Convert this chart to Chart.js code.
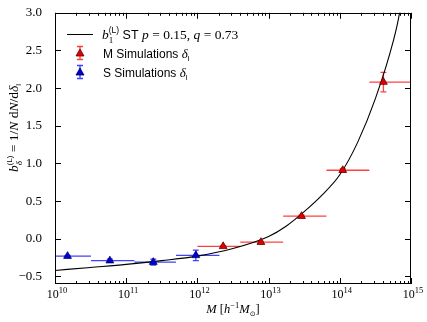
<!DOCTYPE html>
<html lang="en">
<head>
<meta charset="UTF-8">
<title>Halo bias vs mass</title>
<style>
  body { margin: 0; background: #fff; }
  #wrap { width: 427px; height: 322px; }
</style>
</head>
<body>
<div id="wrap"><canvas id="chart" width="427" height="322"></canvas></div>
<script src="https://cdn.jsdelivr.net/npm/chart.js"></script>
<script>
    // ST curve
    const curveMass = [1e10, 3.16e10, 1e11, 3.16e11, 1e12, 3.16e12, 1e13, 1.78e13, 3.16e13, 5.62e13, 1e14, 1.78e14, 3.16e14, 5.62e14, 6.9e14, 7.6e14];
    const curveBias = [-0.42, -0.38, -0.34, -0.29, -0.23, -0.13, 0.03, 0.17, 0.36, 0.58, 0.85, 1.28, 1.86, 2.62, 3.0, 3.3];

    // M simulations
    const mMass = [2.3e12, 7.8e12, 2.9e13, 1.1e14, 4.1e14];
    const mBias = [-0.10, -0.045, 0.30, 0.91, 2.08];
    const mLo = [1.0e12, 4.0e12, 1.6e13, 6.5e13, 2.6e14];
    const mHi = [4.0e12, 1.6e13, 6.5e13, 2.6e14, 1.05e15];
    const mErr = [0.01, 0.01, 0.015, 0.02, 0.13];

    // S simulations
    const sMass = [1.5e10, 5.9e10, 2.4e11, 9.5e11];
    const sBias = [-0.23, -0.29, -0.31, -0.22];
    const sLo = [8.1e9, 3.2e10, 1.3e11, 5.0e11];
    const sHi = [3.2e10, 1.3e11, 5.0e11, 2.04e12];
    const sErr = [0.01, 0.02, 0.04, 0.07];

    const xTickExps = [10, 11, 12, 13, 14, 15];
    const yTicks = [-0.5, 0, 0.5, 1.0, 1.5, 2.0, 2.5, 3.0];

    const SERIF = '"Liberation Serif", "DejaVu Serif", serif';
    const SANS = '"Liberation Sans", "DejaVu Sans", sans-serif';
    const RED = 'rgba(255,0,0,0.75)';
    const BLUE = 'rgba(0,0,255,0.75)';

    function pts(xs, ys) {
        return xs.map((x, i) => ({ x: x, y: ys[i] }));
    }

    // draw a row of text pieces: {t, f, dy, keep}; keep = don't advance (for stacked sub/sup)
    function drawRuns(ctx, runs, x, y) {
        runs.forEach(r => {
            ctx.font = r.f;
            ctx.fillText(r.t, x, y + (r.dy || 0));
            if (!r.keep) x += ctx.measureText(r.t).width;
        });
        return x;
    }
    function runsWidth(ctx, runs) {
        let w = 0;
        runs.forEach(r => {
            ctx.font = r.f;
            if (!r.keep) w += ctx.measureText(r.t).width;
        });
        return w;
    }

    function markerTri(ctx, x, y, fill, edge) {
        ctx.beginPath();
        ctx.moveTo(x, y - 4);
        ctx.lineTo(x + 4, y + 3);
        ctx.lineTo(x - 4, y + 3);
        ctx.closePath();
        ctx.fillStyle = fill;
        ctx.fill();
        ctx.strokeStyle = edge;
        ctx.lineWidth = 0.8;
        ctx.stroke();
    }

    const errorBars = {
        id: 'errorBars',
        beforeDatasetsDraw(chart) {
            const { ctx, chartArea: a, scales: { x, y } } = chart;
            ctx.save();
            ctx.beginPath();
            ctx.rect(a.left, a.top, a.width, a.height);
            ctx.clip();
            ctx.lineWidth = 1.3;
            const sets = [
                [mMass, mBias, mLo, mHi, mErr, RED],
                [sMass, sBias, sLo, sHi, sErr, BLUE]
            ];
            sets.forEach(([xs, ys, lo, hi, err, col]) => {
                ctx.strokeStyle = col;
                xs.forEach((m, i) => {
                    const px = x.getPixelForValue(m);
                    const py = y.getPixelForValue(ys[i]);
                    const y0 = y.getPixelForValue(ys[i] - err[i]);
                    const y1 = y.getPixelForValue(ys[i] + err[i]);
                    ctx.beginPath();
                    ctx.moveTo(x.getPixelForValue(lo[i]), py);
                    ctx.lineTo(x.getPixelForValue(hi[i]), py);
                    ctx.moveTo(px, y0); ctx.lineTo(px, y1);
                    ctx.moveTo(px - 3, y0); ctx.lineTo(px + 3, y0);
                    ctx.moveTo(px - 3, y1); ctx.lineTo(px + 3, y1);
                    ctx.stroke();
                });
            });
            ctx.restore();
        }
    };

    // matplotlib-like frame, inward ticks, x labels, titles and legend
    const decor = {
        id: 'decor',
        afterDraw(chart) {
            const { ctx, chartArea: a, scales: { x, y } } = chart;
            ctx.save();
            ctx.strokeStyle = '#000';
            ctx.lineWidth = 1;
            ctx.strokeRect(Math.round(a.left) + 0.5, Math.round(a.top) + 0.5,
                Math.round(a.width) - 1, Math.round(a.height) - 1);

            ctx.beginPath();
            for (let e = xTickExps[0]; e < xTickExps[xTickExps.length - 1] + 1; e++) {
                for (let k = 1; k <= 9; k++) {
                    const v = k * Math.pow(10, e);
                    if (v > Math.pow(10, xTickExps[xTickExps.length - 1])) break;
                    const px = Math.round(x.getPixelForValue(v)) + 0.5;
                    const len = k === 1 ? 6 : 3;
                    ctx.moveTo(px, a.bottom); ctx.lineTo(px, a.bottom - len);
                    ctx.moveTo(px, a.top); ctx.lineTo(px, a.top + len);
                }
            }
            yTicks.forEach(v => {
                const py = Math.round(y.getPixelForValue(v)) + 0.5;
                ctx.moveTo(a.left, py); ctx.lineTo(a.left + 6, py);
                ctx.moveTo(a.right, py); ctx.lineTo(a.right - 6, py);
            });
            ctx.stroke();

            // x tick labels 10^n
            ctx.fillStyle = '#000';
            ctx.textBaseline = 'alphabetic';
            ctx.textAlign = 'left';
            xTickExps.forEach(e => {
                const runs = [
                    { t: '10', f: '12px ' + SERIF },
                    { t: String(e), f: '8.5px ' + SERIF, dy: -5 }
                ];
                const w = runsWidth(ctx, runs);
                drawRuns(ctx, runs, x.getPixelForValue(Math.pow(10, e)) - w / 2 + 2, a.bottom + 14);
            });

            // x title
            const xt = [
                { t: 'M', f: 'italic 12.5px ' + SERIF },
                { t: ' [', f: '12.5px ' + SERIF },
                { t: 'h', f: 'italic 12.5px ' + SERIF },
                { t: '\u22121', f: '8.5px ' + SERIF, dy: -5 },
                { t: 'M', f: 'italic 12.5px ' + SERIF },
                { t: '\u2299', f: '7px "DejaVu Sans", sans-serif', dy: 3 },
                { t: ']', f: '12.5px ' + SERIF }
            ];
            drawRuns(ctx, xt, (a.left + a.right) / 2 - runsWidth(ctx, xt) / 2, 313);

            // y title, rotated
            const yt = [
                { t: 'b', f: 'italic 13.5px ' + SERIF },
                { t: '\u03b4', f: 'italic 9px ' + SERIF, dy: 3.5, keep: true },
                { t: '(L)', f: '8px ' + SANS, dy: -6 },
                { t: ' = 1/', f: '13.5px ' + SERIF },
                { t: 'N', f: 'italic 13.5px ' + SERIF },
                { t: ' d', f: '13.5px ' + SERIF },
                { t: 'N', f: 'italic 13.5px ' + SERIF },
                { t: '/d', f: '13.5px ' + SERIF },
                { t: '\u03b4', f: 'italic 13.5px ' + SERIF },
                { t: 'l', f: '8px ' + SANS, dy: 3 }
            ];
            ctx.save();
            ctx.translate(18, 128);
            ctx.rotate(-Math.PI / 2);
            drawRuns(ctx, yt, -runsWidth(ctx, yt) / 2, 0);
            ctx.restore();

            // legend
            ctx.strokeStyle = '#000';
            ctx.lineWidth = 1;
            ctx.beginPath();
            ctx.moveTo(67, 34.5); ctx.lineTo(93, 34.5);
            ctx.stroke();
            drawRuns(ctx, [
                { t: 'b', f: 'italic 13.5px ' + SERIF },
                { t: '1', f: '9px ' + SERIF, dy: 3.5, keep: true },
                { t: '(L)', f: '8.5px ' + SANS, dy: -6.5 },
                { t: ' ST ', f: '12.5px ' + SANS },
                { t: 'p', f: 'italic 13.5px ' + SERIF },
                { t: ' = 0.15, ', f: '13.5px ' + SERIF },
                { t: 'q', f: 'italic 13.5px ' + SERIF },
                { t: ' = 0.73', f: '13.5px ' + SERIF }
            ], 102, 39);

            [[53, RED, '#e00000', '#600000', 'M'], [72, BLUE, '#0000dd', '#000060', 'S']].forEach(([cy, col, fill, edge, name]) => {
                ctx.strokeStyle = col;
                ctx.lineWidth = 1.3;
                ctx.beginPath();
                ctx.moveTo(80, cy - 6.5); ctx.lineTo(80, cy + 6.5);
                ctx.moveTo(77, cy - 6.5); ctx.lineTo(83, cy - 6.5);
                ctx.moveTo(77, cy + 6.5); ctx.lineTo(83, cy + 6.5);
                ctx.stroke();
                markerTri(ctx, 80, cy, fill, edge);
                ctx.fillStyle = '#000';
                drawRuns(ctx, [
                    { t: name + ' Simulations ', f: '12px ' + SANS },
                    { t: '\u03b4', f: 'italic 13px ' + SERIF },
                    { t: 'l', f: '7.5px ' + SANS, dy: 3 }
                ], 103, cy + 4.5);
            });
            ctx.restore();
        }
    };

    new Chart(document.getElementById('chart').getContext('2d'), {
        type: 'scatter',
        data: {
            datasets: [
                {
                    label: 'ST',
                    data: pts(curveMass, curveBias),
                    showLine: true,
                    borderColor: '#000',
                    borderWidth: 1.1,
                    pointRadius: 0,
                    cubicInterpolationMode: 'monotone',
                    order: 3
                },
                {
                    label: 'M Simulations',
                    data: pts(mMass, mBias),
                    pointStyle: 'triangle',
                    pointRadius: 4.5,
                    backgroundColor: '#e00000',
                    borderColor: '#600000',
                    borderWidth: 0.8,
                    order: 2
                },
                {
                    label: 'S Simulations',
                    data: pts(sMass, sBias),
                    pointStyle: 'triangle',
                    pointRadius: 4.5,
                    backgroundColor: '#0000dd',
                    borderColor: '#000060',
                    borderWidth: 0.8,
                    order: 1
                }
            ]
        },
        options: {
            responsive: false,
            animation: false,
            layout: { padding: { top: 10, right: 16, left: 0, bottom: 0 } },
            plugins: { legend: { display: false }, tooltip: { enabled: false } },
            scales: {
                x: {
                    type: 'logarithmic',
                    min: 1e10,
                    max: 1e15,
                    grid: { display: false },
                    border: { display: false },
                    ticks: { display: false },
                    afterFit(scale) { scale.height = 38; }
                },
                y: {
                    min: -0.6,
                    max: 3.0,
                    grid: { display: false },
                    border: { display: false },
                    afterBuildTicks(scale) { scale.ticks = yTicks.map(v => ({ value: v })); },
                    ticks: {
                        color: '#000',
                        padding: 5,
                        font: { family: SERIF, size: 13 },
                        callback: v => (v < 0 ? '\u2212' : '') + Math.abs(v).toFixed(1)
                    },
                    afterFit(scale) { scale.width = 55; }
                }
            }
        },
        plugins: [errorBars, decor]
    });
</script>
</body>
</html>
